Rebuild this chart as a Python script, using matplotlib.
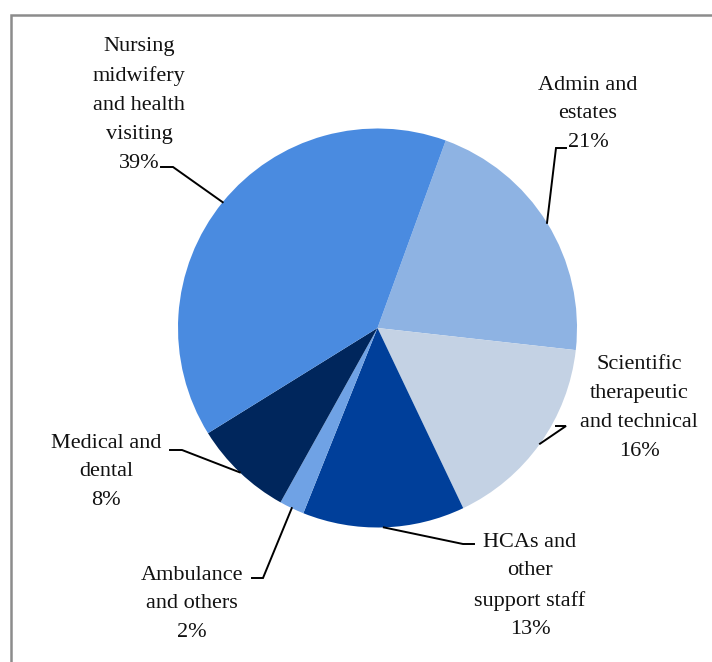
import numpy as np
import matplotlib
matplotlib.use("Agg")
import matplotlib.pyplot as plt
from matplotlib.patches import Rectangle

# Staff group shares (percent), drawn clockwise from the top-right
categories = ["Admin and\nestates", "Scientific\ntherapeutic\nand technical",
              "HCAs and\nother\nsupport staff", "Ambulance\nand others",
              "Medical and\ndental", "Nursing\nmidwifery\nand health\nvisiting"]
shares = [21, 16, 13, 2, 8, 39]
colors = ["#8EB3E3", "#C4D2E4", "#003F9A", "#6FA2E5", "#00265C", "#4A8BE0"]

W, H = 712, 662
fig = plt.figure(figsize=(W / 100, H / 100), dpi=100)
ax = fig.add_axes([0, 0, 1, 1])


def py(y):
    """Convert a top-down pixel row into the axes' upward y coordinate."""
    return H - y


cx, cy, R = 377.5, py(328), 199.5
start = 70
wedges, _ = ax.pie(shares, colors=colors, startangle=start, counterclock=False,
                   center=(cx, cy), radius=R, frame=True,
                   wedgeprops=dict(linewidth=0))
ax.set_xlim(0, W)
ax.set_ylim(0, H)
ax.set_aspect("equal")
ax.axis("off")

# Outer frame
ax.add_patch(Rectangle((11, py(720)), 760, 720 - 15, fill=False,
                       edgecolor="#8C8C8C", linewidth=1.8, clip_on=False))

# Label block centres, leader elbows and leader ends next to the text
label_pos = [(588, 114), (639, 408), (530, 586), (192, 604), (106, 472), (139, 105)]
elbows = [(556, 148), (566, 426), (463, 544), (263, 578), (182, 450), (173, 167)]
tails = [(566, 148), (556, 426), (474, 544), (252, 578), (170, 450), (161, 167)]

font = dict(family="Liberation Serif", size=16, color="#111111")
for w, cat, val, (tx, ty), (ex, ey), (sx, sy) in zip(
        wedges, categories, shares, label_pos, elbows, tails):
    mid = np.deg2rad((w.theta1 + w.theta2) / 2)
    ax_, ay_ = cx + R * np.cos(mid), cy + R * np.sin(mid)
    ax.plot([ax_, ex, sx], [ay_, py(ey), py(sy)], color="black", lw=1.4,
            solid_joinstyle="miter")
    ax.text(tx, py(ty), f"{cat}\n{val}%", ha="center", va="center",
            linespacing=1.7, **font)

fig.savefig("out.png", dpi=100)
